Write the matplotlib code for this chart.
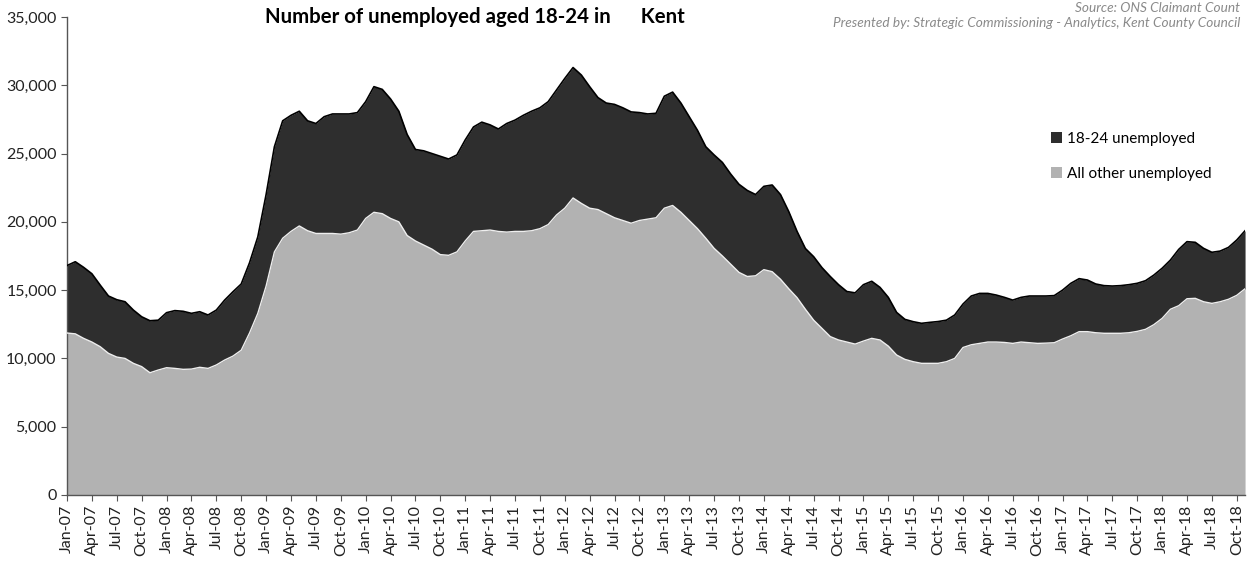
import numpy as np
import matplotlib
matplotlib.use("Agg")
import matplotlib.pyplot as plt
from matplotlib.ticker import FuncFormatter

# monthly claimant counts, Jan-07 .. Nov-18
mon_names = ["Jan", "Feb", "Mar", "Apr", "May", "Jun",
             "Jul", "Aug", "Sep", "Oct", "Nov", "Dec"]
years = list(range(7, 19))

total_unemployed = [
    16800, 17080, 16670, 16200, 15370, 14570, 14300, 14150, 13540, 13050, 12760, 12800,
    13350, 13500, 13450, 13300, 13420, 13180, 13540, 14270, 14880, 15450, 17000, 18900,
    22000, 25500, 27400, 27800, 28100, 27400, 27200, 27700, 27900, 27900, 27900, 28000,
    28800, 29900, 29700, 29000, 28100, 26400, 25300, 25200, 25000, 24800, 24600, 24900,
    26000, 26950, 27300, 27100, 26800, 27200, 27450, 27800, 28100, 28350, 28800, 29650,
    30500, 31300, 30750, 29900, 29100, 28700, 28600, 28350, 28050, 28000, 27900, 27950,
    29200, 29500, 28700, 27700, 26700, 25500, 24900, 24350, 23500, 22750, 22300, 22000,
    22600, 22700, 22000, 20750, 19300, 18050, 17450, 16650, 16000, 15400, 14900, 14800,
    15400, 15650, 15200, 14470, 13370, 12860, 12690, 12570, 12640, 12700, 12800, 13180,
    13980, 14570, 14760, 14760, 14640, 14470, 14270, 14470, 14570, 14570, 14570, 14600,
    15000, 15500, 15840, 15740, 15450, 15330, 15300, 15330, 15400, 15500, 15690, 16100,
    16600, 17200, 17980, 18550, 18500, 18060, 17770, 17860, 18130, 18670, 19350,
]

other_unemployed = [
    11860, 11800, 11470, 11200, 10860, 10370, 10100, 10000, 9640, 9400, 8950, 9150,
    9320, 9270, 9200, 9220, 9350, 9270, 9520, 9880, 10170, 10600, 11860, 13300,
    15300, 17800, 18800, 19300, 19700, 19350, 19150, 19150, 19150, 19100, 19200, 19400,
    20250, 20700, 20600, 20250, 20000, 19000, 18600, 18300, 18000, 17600, 17550, 17800,
    18600, 19300, 19350, 19400, 19300, 19250, 19300, 19300, 19350, 19500, 19800, 20500,
    21000, 21750, 21350, 21000, 20900, 20600, 20300, 20100, 19900, 20100, 20200, 20300,
    21000, 21200, 20700, 20100, 19500, 18800, 18060, 17500, 16900, 16300, 16000, 16050,
    16500, 16350, 15800, 15100, 14450, 13600, 12800, 12200, 11600, 11350, 11200, 11050,
    11270, 11470, 11350, 10900, 10250, 9930, 9760, 9640, 9640, 9640, 9760, 10000,
    10800, 11000, 11100, 11200, 11200, 11170, 11100, 11200, 11150, 11100, 11120, 11150,
    11420, 11660, 11960, 11960, 11880, 11840, 11840, 11840, 11880, 11980, 12130, 12470,
    12930, 13600, 13860, 14370, 14400, 14150, 14030, 14150, 14330, 14620, 15100,
]

month_labels = [f"{m}-{y:02d}" for y in years for m in mon_names][:len(total_unemployed)]

total = np.array(total_unemployed)
other = np.array(other_unemployed)
x = np.arange(len(total))

fig = plt.figure(figsize=(12.57, 5.63), dpi=100)
ax = fig.add_axes([0.0533, 0.1208, 0.9372, 0.849])

ax.fill_between(x, 0, other, color="#b2b2b2", lw=0, zorder=2,
                label="All other unemployed")
ax.fill_between(x, other, total, color="#2e2e2e", lw=0, zorder=2,
                label="18-24 unemployed")
ax.plot(x, total, color="#000000", lw=1.2, zorder=3)
ax.plot(x, other, color="#eeeeee", lw=1.0, zorder=3)

ax.set_xlim(0, len(total) - 1)
ax.set_ylim(0, 35000)
ax.set_yticks(range(0, 35001, 5000))
ax.yaxis.set_major_formatter(FuncFormatter(lambda v, p: f"{int(v):,}"))
ax.set_xticks(x[::3])
ax.set_xticklabels(month_labels[::3], rotation=90)

for s in ["top", "right"]:
    ax.spines[s].set_visible(False)
for s in ["left", "bottom"]:
    ax.spines[s].set_color("#555555")
    ax.spines[s].set_linewidth(1)
ax.tick_params(axis="both", direction="out", length=4, color="#555555",
               labelsize=11.5, labelcolor="#222222")
ax.tick_params(axis="x", pad=3)
for lab in ax.get_xticklabels() + ax.get_yticklabels():
    lab.set_family("Lato")

fig.text(0.2108, 0.969, "Number of unemployed aged 18-24 in      Kent",
         fontsize=14.7, fontweight="bold", family="Lato", va="center", ha="left")
fig.text(0.9865, 0.986, "Source: ONS Claimant Count", fontsize=9.8,
         style="italic", color="#8a8a8a", family="Lato", ha="right", va="center")
fig.text(0.9865, 0.96,
         "Presented by: Strategic Commissioning - Analytics, Kent County Council",
         fontsize=9.8, style="italic", color="#8a8a8a", family="Lato",
         ha="right", va="center")

handles, labels = ax.get_legend_handles_labels()
leg = ax.legend(handles[::-1], labels[::-1], loc="upper left",
                bbox_to_anchor=(0.8255, 0.79), bbox_transform=fig.transFigure,
                frameon=False, handlelength=0.7, handleheight=0.7,
                handletextpad=0.3, labelspacing=1.35,
                prop={"family": "Lato", "size": 11})

fig.savefig("out.png", dpi=100)
